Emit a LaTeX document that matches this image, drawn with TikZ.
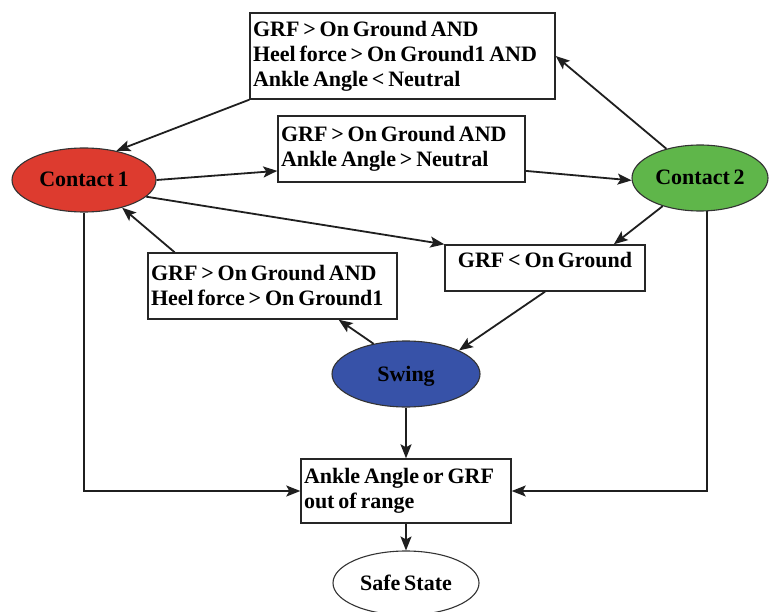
\documentclass[tikz,border=0pt]{standalone}
\usepackage{fontspec}
\setmainfont[WordSpace=0.7]{Liberation Serif}
\usetikzlibrary{arrows.meta,shapes.geometric,calc}
\definecolor{cred}{HTML}{DD3B2F}
\definecolor{cgreen}{HTML}{5FB64A}
\definecolor{cblue}{HTML}{3752A8}
\tikzset{
  box/.style={draw=black!85, line width=1.4pt, fill=white, align=flush left, inner xsep=3pt, inner ysep=0pt},
  state/.style={ellipse, draw=black!80, line width=1.1pt, inner sep=0pt},
  arr/.style={-{Stealth[length=14pt,width=11pt,inset=3pt]}, line width=1.8pt, draw=black!88}
}
\begin{document}
\begin{tikzpicture}[x=1pt,y=-1pt, font=\fontsize{22}{25}\selectfont\bfseries]
\useasboundingbox (0,0) rectangle (770,612);
\fill[white] (0,0) rectangle (770,612);

\node[box, text width=299pt, minimum width=305pt, minimum height=86pt] (B1) at (402.5,56)
  {GRF > On Ground AND\\Heel force > On Ground1 AND\\Ankle Angle < Neutral};
\node[box, text width=241pt, minimum width=247pt, minimum height=66pt] (B2) at (401.5,149)
  {GRF > On Ground AND\\Ankle Angle > Neutral};
\node[draw=black!85, line width=1.4pt, fill=white, inner sep=0pt, minimum width=200pt, text height=22pt, text depth=24pt] (B3) at (545,268)
  {GRF < On Ground};
\node[box, text width=243pt, minimum width=249pt, minimum height=66pt] (B4) at (272.5,286)
  {GRF > On Ground AND\\Heel force > On Ground1};
\node[box, text width=204pt, minimum width=210pt, minimum height=64pt] (B5) at (406,491)
  {Ankle Angle or GRF\\out of range};

\node[state, fill=cred, minimum width=144pt, minimum height=64pt, text height=18pt, text depth=4pt] (C1) at (84,180) {Contact 1};
\node[state, fill=cgreen, minimum width=136pt, minimum height=66pt, text height=18pt, text depth=4pt] (C2) at (700,178) {Contact 2};
\node[state, fill=cblue, minimum width=148pt, minimum height=66pt, text height=18pt, text depth=4pt] (SW) at (406,374) {Swing};
\node[state, fill=white, minimum width=146pt, minimum height=64pt, text height=18pt, text depth=4pt] (SS) at (406,583) {Safe State};

\draw[arr] (B1.south west) -- (C1.42);
\draw[arr] (C2.139) -- (B1.east);
\draw[arr] (C1.east) -- (B2.190);
\draw[arr] (B2.-10) -- (C2.182);
\draw[arr] (C1.-15) -- (B3.north west);
\draw[arr] (C2.217) -- (B3.19);
\draw[arr] (B3.south) -- (SW.24);
\draw[arr] (SW.137) -- (B4.-27);
\draw[arr] (B4.161) -- (C1.-36);
\draw[arr] (SW.south) -- (B5.north);
\draw[arr] (C1.south) |- (B5.west);
\draw[arr] (C2.-78) |- (B5.east);
\draw[arr] (B5.south) -- (SS.north);
\end{tikzpicture}
\end{document}
